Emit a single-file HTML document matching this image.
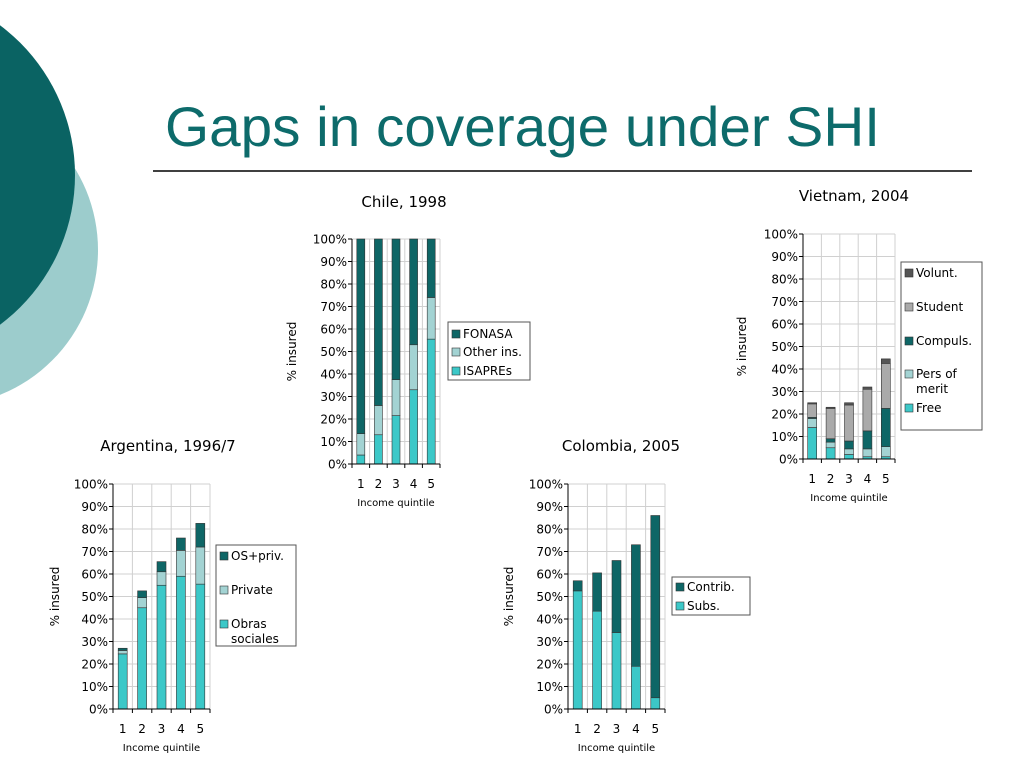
<!DOCTYPE html>
<html><head><meta charset="utf-8"><style>
html,body{margin:0;padding:0;background:#fff;}
svg{display:block;}
text{font-family:"DejaVu Sans","Liberation Sans",sans-serif;fill:#000;}
</style></head><body>
<svg id="s" width="1024" height="768" viewBox="0 0 1024 768" xmlns="http://www.w3.org/2000/svg">
<circle cx="-58" cy="250" r="156" fill="#9ccccc"/>
<circle cx="-112" cy="175" r="187" fill="#0a6363"/>
<text x="165" y="146" textLength="715" lengthAdjust="spacingAndGlyphs" style="font-family:'Liberation Sans',sans-serif;font-size:56px;fill:#0d6b6b">Gaps in coverage under SHI</text>
<line x1="153" y1="171" x2="972" y2="171" stroke="#000" stroke-width="1.5"/>
</svg>
<script>
var S=document.getElementById('s'),NS='http://www.w3.org/2000/svg';
function el(t,a,txt){var e=document.createElementNS(NS,t);for(var k in a)e.setAttribute(k,a[k]);if(txt!=null)e.textContent=txt;S.appendChild(e);return e;}
var DK='#0e6666',LT='#a3d3d3',CY='#3cc8c8',GR='#aaaaaa',DG='#555555';
function chart(c){
 var h=c.y0-c.y100;
 var step=(c.x1-c.x0)/5;
 for(var i=1;i<=10;i++){var y=c.y0-h*i/10;el('line',{x1:c.x0,y1:y,x2:c.x1,y2:y,stroke:'#d0d0d0','stroke-width':1});}
 for(var i=1;i<=5;i++){var x=c.x0+step*i;el('line',{x1:x,y1:c.y100,x2:x,y2:c.y0,stroke:'#d0d0d0','stroke-width':1});}
 for(var i=0;i<5;i++){
  var cx=c.x0+step*(i+0.5),prev=0;
  for(var j=0;j<c.d[i].length;j++){var top=c.d[i][j];
   el('rect',{x:cx-c.w/2,y:c.y0-h*top/100,width:c.w,height:h*(top-prev)/100,fill:c.col[j],stroke:'#333','stroke-width':0.6});prev=top;}
  el('text',{x:cx,y:c.y0+24,'font-size':12,'text-anchor':'middle'},String(i+1));
 }
 el('line',{x1:c.x0,y1:c.y100,x2:c.x0,y2:c.y0,stroke:'#000'});
 el('line',{x1:c.x0,y1:c.y0,x2:c.x1,y2:c.y0,stroke:'#000'});
 for(var i=0;i<=10;i++){var y=c.y0-h*i/10;el('line',{x1:c.x0-4,y1:y,x2:c.x0,y2:y,stroke:'#000'});
  el('text',{x:c.x0-5,y:y+4.5,'font-size':12,'text-anchor':'end'},(i*10)+'%');}
 for(var i=0;i<=5;i++){var x=c.x0+step*i;el('line',{x1:x,y1:c.y0,x2:x,y2:c.y0+4,stroke:'#000'});}
 el('text',{x:(c.x0+c.x1)/2,y:c.y0+42,'font-size':10,'text-anchor':'middle'},'Income quintile');
 el('text',{x:0,y:0,'font-size':12,'text-anchor':'middle',transform:'translate('+c.yl+','+((c.y0+c.y100)/2)+') rotate(-90)'},'% insured');
 el('text',{x:c.tx,y:c.ty,'font-size':15,'text-anchor':'middle'},c.title);
 var L=c.leg;el('rect',{x:L[0],y:L[1],width:L[2],height:L[3],fill:'#fff',stroke:'#555'});
 for(var k=0;k<c.li.length;k++){var it=c.li[k];
  el('rect',{x:L[0]+4,y:it[1]-8,width:8,height:8,fill:c.col[it[0]],stroke:'#333','stroke-width':0.6});
  for(var m=2;m<it.length;m++)el('text',{x:L[0]+15,y:it[1]+(m-2)*15,'font-size':12},it[m]);}
}
chart({x0:352,x1:440,y0:464,y100:239,w:8,col:[CY,LT,DK],
 d:[[4,13.5,100],[13,26,100],[21.5,37.5,100],[33,53,100],[55.5,74,100]],
 yl:296,title:'Chile, 1998',tx:404,ty:207,leg:[448,322,82,58],
 li:[[2,338,'FONASA'],[1,356,'Other ins.'],[0,375,'ISAPREs']]});
chart({x0:803,x1:895,y0:459,y100:234,w:9,col:[CY,LT,DK,GR,DG],
 d:[[14,18,18.5,24.5,25],[5,7.5,9,22.5,23],[2,4.5,8,24,25],[1,4.5,12.5,31,32],[1,5.5,22.5,42.5,44.5]],
 yl:746,title:'Vietnam, 2004',tx:854,ty:201,leg:[901,262,81,168],
 li:[[4,277,'Volunt.'],[3,311,'Student'],[2,345,'Compuls.'],[1,378,'Pers of','merit'],[0,412,'Free']]});
chart({x0:113,x1:210,y0:709,y100:484,w:9,col:[CY,LT,DK],
 d:[[24.5,26,27],[45,49.5,52.5],[55,61,65.5],[59,70.5,76],[55.5,72,82.5]],
 yl:59,title:'Argentina, 1996/7',tx:168,ty:451,leg:[216,545,80,101],
 li:[[2,560,'OS+priv.'],[1,594,'Private'],[0,628,'Obras','sociales']]});
chart({x0:568,x1:665,y0:709,y100:484,w:9,col:[CY,DK],
 d:[[52.5,57],[43.5,60.5],[34,66],[19,73],[5,86]],
 yl:513,title:'Colombia, 2005',tx:621,ty:451,leg:[672,577,78,38],
 li:[[1,591,'Contrib.'],[0,610,'Subs.']]});
</script>
</body></html>
